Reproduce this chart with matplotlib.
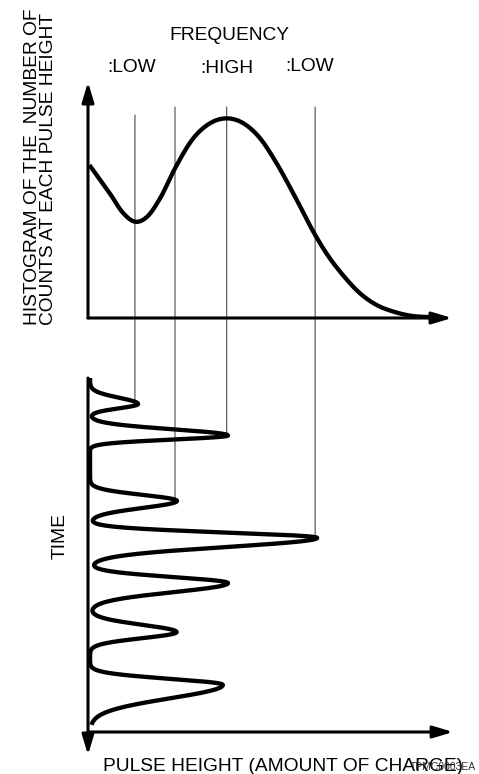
import numpy as np
import matplotlib
matplotlib.use("Agg")
import matplotlib.pyplot as plt
from matplotlib.patches import ConnectionPatch

plt.rcParams['font.family'] = ['Liberation Sans', 'DejaVu Sans']

# ---------------- data ----------------
# histogram of counts vs pulse height (arbitrary units)
hist_height = [0.4, 6.0, 9.7, 12.9, 16.1, 19.8, 23.9, 28.9, 33.5, 38.1, 42.7,
               47.3, 51.8, 56.4, 62.4, 65.5, 70.4, 74.7, 79.3, 83.9, 88.5, 94.9]
hist_count = [64.8, 52.8, 44.4, 40.8, 42.7, 50.7, 63.4, 76.1, 82.5, 84.6, 82.5,
              76.1, 65.6, 52.8, 35.2, 27.4, 17.5, 10.5, 5.5, 2.7, 1.0, 0.3]

# pulse train (time vs pulse height)
pulse_time = [6.9, 15.25, 32.6, 42.4, 54.4, 67.4, 81.4]
pulse_height = [13.2, 37.9, 23.9, 62.4, 37.9, 23.8, 36.5]
pulse_rise = [5.0, 4.9, 4.8, 4.2, 4.8, 5.8, 4.8]
pulse_fall = [3.4, 3.2, 5.6, 7.2, 7.2, 4.8, 10.6]

# guide lines: pulse height bins and the pulse each one meets
bin_height = [12.9, 23.9, 38.1, 62.4]
bin_pulse = [0, 2, 1, 3]

title_text = "FREQUENCY"
freq_labels = [":LOW", ":HIGH", ":LOW"]
ylabel_top = ["HISTOGRAM OF THE  NUMBER OF", "COUNTS AT EACH PULSE HEIGHT"]
ylabel_bot = "TIME"
xlabel = "PULSE HEIGHT (AMOUNT OF CHARGE)"
code_text = "TPMC0003EA"

# ---------------- figure ----------------
W, H = 479, 774
fig = plt.figure(figsize=(W / 100, H / 100), dpi=100)


def fx(px):
    return px / W


def fy(py):
    return 1 - py / H


# top axes: x 88..452 px, y 318..82 px
ax_top = fig.add_axes([fx(88), fy(318), (452 - 88) / W, (318 - 82) / H])
ax_top.set_xlim(0, 100)
ax_top.set_ylim(0, 100)
ax_top.axis('off')
ax_top.patch.set_visible(False)

# bottom axes: x 88..452 px, y 378..755 px (time downward)
ax_bot = fig.add_axes([fx(88), fy(755), (452 - 88) / W, (755 - 378) / H])
ax_bot.set_xlim(0, 100)
ax_bot.set_ylim(100, 0)
ax_bot.axis('off')
ax_bot.patch.set_visible(False)

AX_LW = 2.2
CURVE_LW = 3.1


def arrow(ax, x0, y0, x1, y1):
    ax.annotate('', xy=(x1, y1), xytext=(x0, y0), xycoords='data',
                arrowprops=dict(arrowstyle='-|>,head_length=1.2,head_width=0.36',
                                mutation_scale=10, lw=AX_LW, color='black',
                                shrinkA=0, shrinkB=0),
                annotation_clip=False)


# axes arrows
arrow(ax_top, 0, 0, 0, 100)
arrow(ax_top, 0, 0, 100, 0)
arrow(ax_bot, 0, 0, 0, 100)
arrow(ax_bot, 0, 93.9, 100.3, 93.9)


# histogram curve: cubic Hermite drawn through the read points
def hermite(xs, ys, n=30):
    xs = np.asarray(xs, float)
    ys = np.asarray(ys, float)
    d = np.diff(xs)
    s = np.diff(ys) / d
    m = np.empty_like(ys)
    m[0], m[-1] = s[0], s[-1]
    m[1:-1] = (s[1:] * d[:-1] + s[:-1] * d[1:]) / (d[:-1] + d[1:])
    X, Y = [], []
    for i in range(len(xs) - 1):
        u = np.linspace(0, 1, n, endpoint=False)
        h00 = 2 * u**3 - 3 * u**2 + 1
        h10 = u**3 - 2 * u**2 + u
        h01 = -2 * u**3 + 3 * u**2
        h11 = u**3 - u**2
        X.append(xs[i] + u * d[i])
        Y.append(h00 * ys[i] + h10 * d[i] * m[i] + h01 * ys[i + 1] + h11 * d[i] * m[i + 1])
    X.append([xs[-1]])
    Y.append([ys[-1]])
    return np.concatenate(X), np.concatenate(Y)


hx, hy = hermite(hist_height, hist_count)
ax_top.plot(hx, hy, color='black', lw=CURVE_LW,
            solid_capstyle='butt', clip_on=False, zorder=3)

# pulse trace
t = np.linspace(0, 92.0, 3000)
x = np.full_like(t, 0.55)
for ti, ai, ri, fi in zip(pulse_time, pulse_height, pulse_rise, pulse_fall):
    w = np.where(t < ti, ri, fi)
    u = (t - ti) / w
    x += ai * np.exp(-4.5 * u ** 2)
ax_bot.plot(x, t, color='black', lw=CURVE_LW, solid_capstyle='butt',
            clip_on=False, zorder=3)

# guide lines
guide_top = [86.0, 89.4, 89.4, 89.4]
for hb, pi, top in zip(bin_height, bin_pulse, guide_top):
    con = ConnectionPatch(xyA=(hb, top), coordsA=ax_top.transData,
                          xyB=(hb, pulse_time[pi]), coordsB=ax_bot.transData,
                          color='#4a4a4a', lw=0.8, zorder=-1)
    fig.add_artist(con)

# ---------------- texts ----------------
FS = 13.8
fig.text(fx(229), fy(40), title_text, ha='center', va='baseline', fontsize=FS)
label_px = [(132, 72), (227, 73), (310, 71)]
for lab, (px, py) in zip(freq_labels, label_px):
    fig.text(fx(px), fy(py), lab, ha='center', va='baseline', fontsize=FS)

fig.text(fx(36.7), fy(325), ylabel_top[0], rotation=90, rotation_mode='anchor',
         ha='left', va='baseline', fontsize=FS)
fig.text(fx(53.3), fy(325), ylabel_top[1], rotation=90, rotation_mode='anchor',
         ha='left', va='baseline', fontsize=FS)
fig.text(fx(65), fy(536), ylabel_bot, rotation=90, rotation_mode='anchor',
         ha='center', va='baseline', fontsize=FS)
fig.text(fx(103), fy(771), xlabel, ha='left', va='baseline', fontsize=FS)
fig.text(fx(476), fy(770), code_text, ha='right', va='baseline', fontsize=7.5,
         color='#333333')

fig.savefig('out.png', dpi=100)
